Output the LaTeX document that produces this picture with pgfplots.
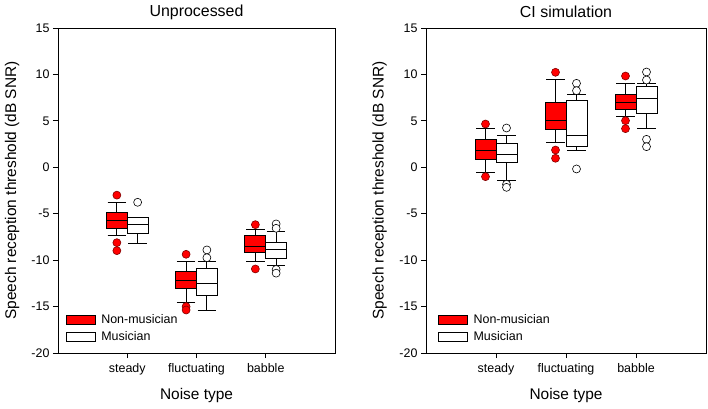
\documentclass[border=0pt]{standalone}
\usepackage{fontspec}
\setmainfont{Liberation Sans}
\usepackage{pgfplots}
\pgfplotsset{compat=1.18}
\usepgfplotslibrary{statistics}

\pgfplotsset{
  srt/.style={
    scale only axis, width=277bp, height=325bp,
    xmin=0, xmax=4, ymin=-20, ymax=15,
    xtick={1,2,3}, xticklabels={steady,fluctuating,babble},
    ytick={-20,-15,...,15},
    tick align=outside, tick pos=left,
    major tick length=5bp,
    every tick/.style={black, line width=0.8bp},
    axis line style={line width=0.8bp},
    /pgf/number format/assume math mode=true,
    tick label style={font=\fontsize{12.5}{14}\selectfont},
    xticklabel style={yshift=-2bp},
    label style={font=\fontsize{15.5}{18}\selectfont},
    title style={font=\fontsize{16}{19}\selectfont, at={(axis description cs:0.5,1)}, anchor=center, yshift=10bp},
    xlabel={Noise type},
    xlabel style={at={(axis description cs:0.5,0)}, anchor=center, yshift=-43bp},
    ylabel={Speech reception threshold (dB SNR)},
    ylabel style={at={(axis description cs:-0.166,0.5)}, anchor=center},
    boxplot/draw direction=y,
    boxplot/box extend=0.3,
    boxplot/whisker extend=0.27,
    legend style={at={(axis description cs:0.02,0.02)}, anchor=south west, draw=none, fill=none,
      font=\fontsize{12.5}{14}\selectfont, row sep=3bp, inner sep=2bp},
    legend cell align=left,
    legend image code/.code={\draw[#1, line width=0.8bp] (0bp,-4.5bp) rectangle (29bp,4.5bp);
      \path (33bp,0bp);},
  },
  nm/.style={draw=black, fill=red, line width=1bp, mark=*, mark size=4bp,
    mark options={fill=red, draw=black!50!red, line width=0.6bp}},
  mu/.style={draw=black, fill=white, line width=1bp, mark=*, mark size=4bp,
    mark options={fill=white, draw=black, line width=0.6bp}},
}

\begin{document}
\begin{tikzpicture}
\path[use as bounding box] (-58bp,-56bp) rectangle (650bp,353bp);

% Unprocessed
\begin{axis}[srt, at={(0,0)}, anchor=south west, title={Unprocessed}]
\addlegendimage{draw=black, fill=red}
\addlegendentry{Non-musician}
\addlegendimage{draw=black, fill=white}
\addlegendentry{Musician}
% steady
\addplot[nm, forget plot, boxplot prepared={draw position=0.85,
  lower whisker=-7.4, lower quartile=-6.61, median=-5.75, upper quartile=-4.89, upper whisker=-3.77}]
  coordinates {(0,-3.0) (0,-8.12) (0,-8.98)};
\addplot[mu, forget plot, boxplot prepared={draw position=1.15,
  lower whisker=-8.19, lower quartile=-7.11, median=-6.21, upper quartile=-5.39, upper whisker=-5.39}]
  coordinates {(0,-3.77)};
% fluctuating
\addplot[nm, forget plot, boxplot prepared={draw position=1.85,
  lower whisker=-14.58, lower quartile=-13.03, median=-12.2, upper quartile=-11.24, upper whisker=-10.16}]
  coordinates {(0,-9.37) (0,-15.0) (0,-15.37)};
\addplot[mu, forget plot, boxplot prepared={draw position=2.15,
  lower whisker=-15.37, lower quartile=-13.86, median=-12.5, upper quartile=-10.95, upper whisker=-10.2}]
  coordinates {(0,-8.9) (0,-9.74)};
% babble
\addplot[nm, forget plot, boxplot prepared={draw position=2.85,
  lower whisker=-10.16, lower quartile=-9.19, median=-8.55, upper quartile=-7.4, upper whisker=-6.65}]
  coordinates {(0,-6.18) (0,-10.95)};
\addplot[mu, forget plot, boxplot prepared={draw position=3.15,
  lower whisker=-10.63, lower quartile=-9.8, median=-8.9, upper quartile=-8.12, upper whisker=-6.93}]
  coordinates {(0,-6.1) (0,-6.57) (0,-11.0) (0,-11.4)};
\end{axis}

% CI simulation
\begin{axis}[srt, width=280bp, at={(368bp,0)}, anchor=south west, title={CI simulation},
  legend style={at={(axis description cs:0.035,0.02)}}]
\addlegendimage{draw=black, fill=red}
\addlegendentry{Non-musician}
\addlegendimage{draw=black, fill=white}
\addlegendentry{Musician}
% steady
\addplot[nm, forget plot, boxplot prepared={draw position=0.85,
  lower whisker=-0.58, lower quartile=0.89, median=1.86, upper quartile=3.01, upper whisker=4.16}]
  coordinates {(0,4.66) (0,-1.01)};
\addplot[mu, forget plot, boxplot prepared={draw position=1.15,
  lower whisker=-1.37, lower quartile=0.5, median=1.4, upper quartile=2.58, upper whisker=3.4}]
  coordinates {(0,4.23) (0,-1.83) (0,-2.16)};
% fluctuating
\addplot[nm, forget plot, boxplot prepared={draw position=1.85,
  lower whisker=2.65, lower quartile=4.09, median=5.02, upper quartile=7.0, upper whisker=9.4}]
  coordinates {(0,10.23) (0,1.86) (0,0.97)};
\addplot[mu, forget plot, boxplot prepared={draw position=2.15,
  lower whisker=1.86, lower quartile=2.22, median=3.4, upper quartile=7.14, upper whisker=7.86}]
  coordinates {(0,9.04) (0,8.25) (0,-0.18)};
% babble
\addplot[nm, forget plot, boxplot prepared={draw position=2.85,
  lower whisker=5.45, lower quartile=6.25, median=7.0, upper quartile=7.79, upper whisker=9.04}]
  coordinates {(0,9.83) (0,5.02) (0,4.16)};
\addplot[mu, forget plot, boxplot prepared={draw position=3.15,
  lower whisker=4.2, lower quartile=5.74, median=7.39, upper quartile=8.75, upper whisker=9.04}]
  coordinates {(0,10.26) (0,9.4) (0,3.01) (0,2.22)};
\end{axis}
\end{tikzpicture}
\end{document}
